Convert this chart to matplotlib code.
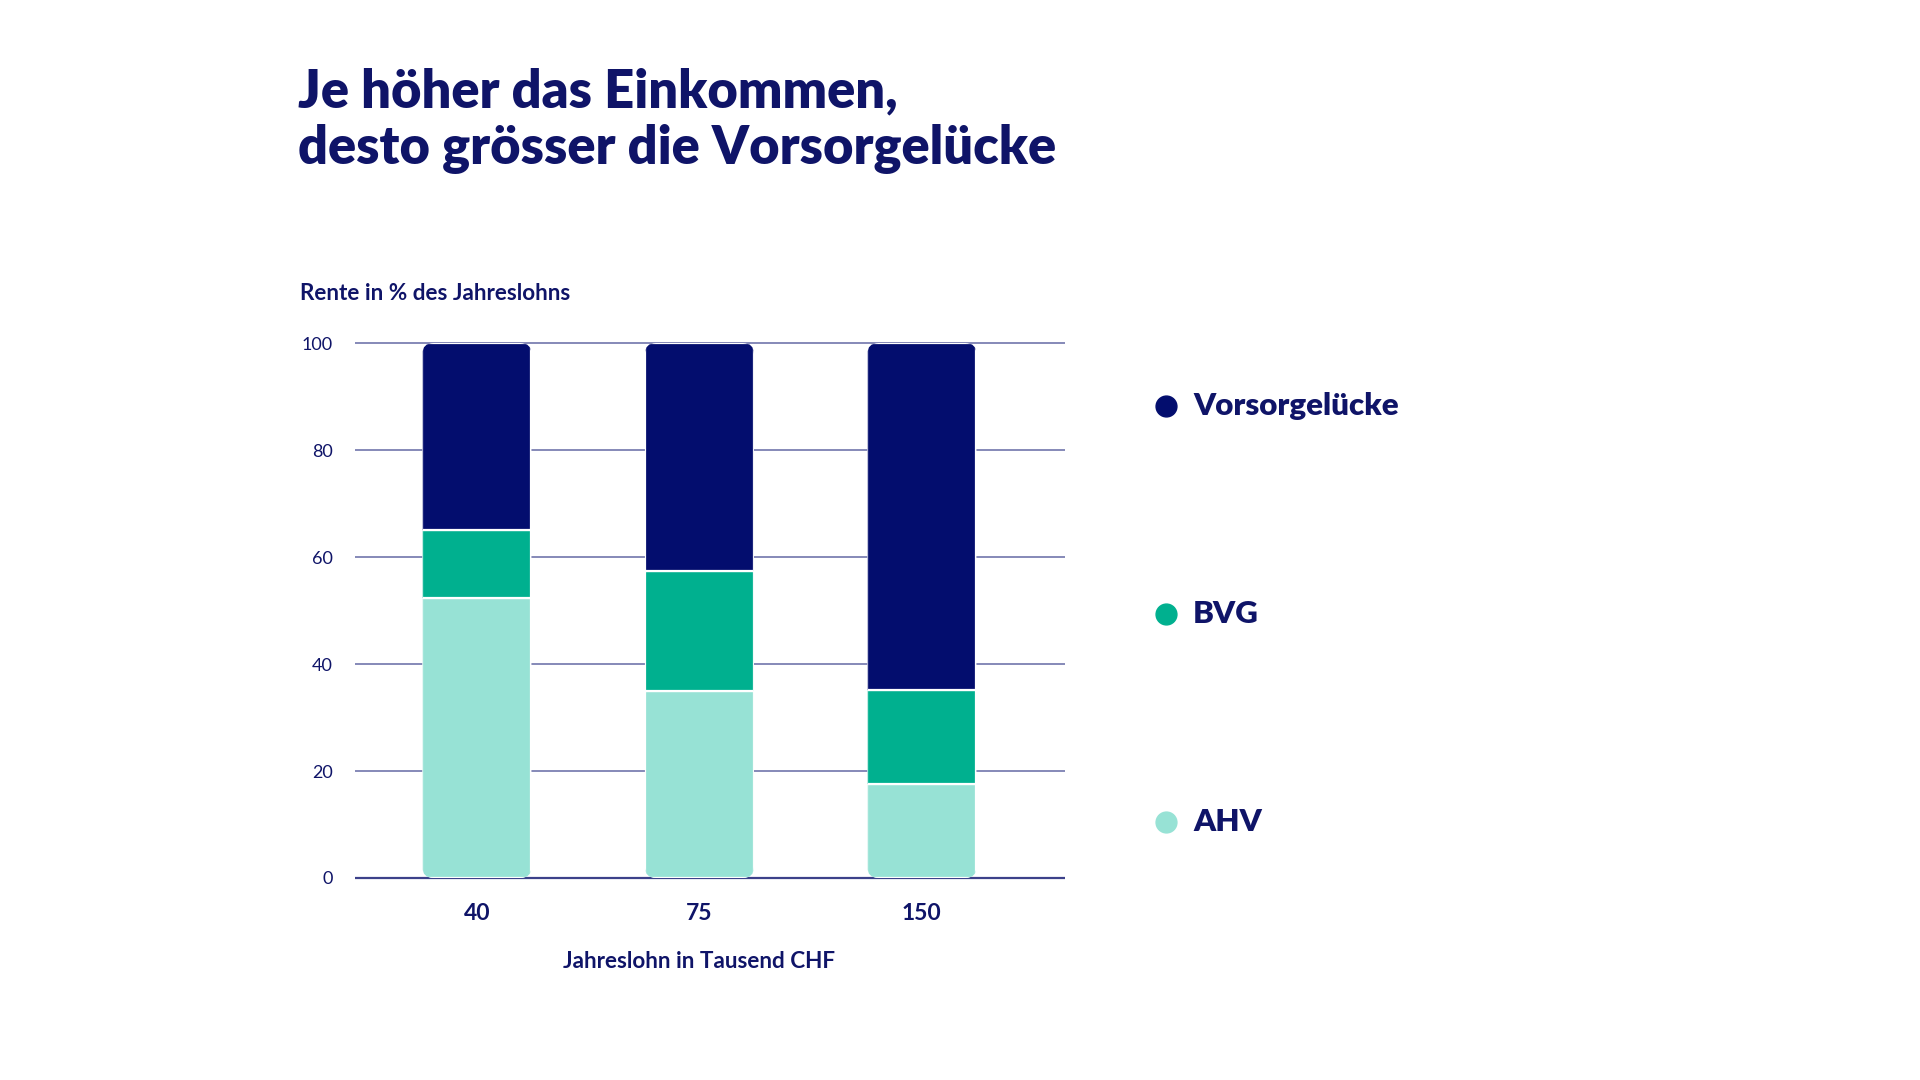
"""Stacked bar chart: Rente in % des Jahreslohns nach Einkommen."""

import matplotlib
import matplotlib.pyplot as plt
import numpy as np
from matplotlib.patches import FancyBboxPatch
from matplotlib.transforms import IdentityTransform

matplotlib.use('Agg')

plt.rcParams['font.family'] = ['Lato', 'DejaVu Sans']

# data
categories = ['40', '75', '150']
ahv = [52.4, 35.0, 17.6]
bvg = [12.6, 22.4, 17.5]
luecke = [35.0, 42.6, 64.9]
series_names = ['AHV', 'BVG', 'Vorsorgelücke']
yticks = [0, 20, 40, 60, 80, 100]

NAVY = '#030d6e'
GREEN = '#00b08f'
MINT = '#97e2d5'
TEXT = '#0f1468'
GRID = '#8589b8'

fig = plt.figure(figsize=(19.2, 10.8), dpi=100)
ax = fig.add_axes([355 / 1920, 1 - 878 / 1080, 710 / 1920, 535 / 1080])

x = np.arange(len(categories))
width = 0.49
ax.set_xlim(-0.548, 2.643)
ax.set_ylim(0, 100)

# grid lines behind the bars
ax.hlines(yticks, 0, 1, transform=ax.get_yaxis_transform(), colors=GRID,
          linewidth=1.4, clip_on=False, zorder=0)
ax.hlines([0], 0, 1, transform=ax.get_yaxis_transform(), colors='#3c418a',
          linewidth=1.6, clip_on=False, zorder=0)

bottoms = np.zeros(len(categories))
containers = []
for vals, color in zip([ahv, bvg, luecke], [MINT, GREEN, NAVY]):
    bars = ax.bar(x, vals, width, bottom=bottoms, color=color,
                  edgecolor='white', linewidth=1.6, zorder=2)
    containers.append(bars)
    bottoms = bottoms + np.array(vals)

# rounded outline of each full stack (in pixels) used as clip path
for i, total in enumerate(bottoms):
    (x0, y0), (x1, y1) = ax.transData.transform(
        [(x[i] - width / 2, 0), (x[i] + width / 2, total)])
    clip = FancyBboxPatch((x0, y0), x1 - x0, y1 - y0,
                          boxstyle='round,pad=0,rounding_size=11',
                          transform=IdentityTransform(),
                          facecolor='none', edgecolor='none')
    for bars in containers:
        bars[i].set_clip_path(clip)

for s in ax.spines.values():
    s.set_visible(False)
ax.tick_params(length=0)
ax.set_yticks(yticks)
ax.set_yticklabels([str(t) for t in yticks], fontsize=13, color=TEXT)
ax.tick_params(axis='y', pad=16)
ax.set_xticks(x)
ax.set_xticklabels(categories, fontsize=16.5, fontweight='bold', color=TEXT)
ax.tick_params(axis='x', pad=18)

fig.text(699 / 1920, 1 - 962 / 1080, 'Jahreslohn in Tausend CHF', ha='center',
         va='center', fontsize=16.2, fontweight='bold', color=TEXT)
fig.text(300 / 1920, 1 - 293 / 1080, 'Rente in % des Jahreslohns', ha='left',
         va='center', fontsize=16.2, fontweight='bold', color=TEXT)

fig.text(298 / 1920, 1 - 67 / 1080,
         'Je höher das Einkommen,\ndesto grösser die Vorsorgelücke',
         ha='left', va='top', fontsize=37.7, fontweight='heavy', color=TEXT,
         linespacing=1.2)

# legend
legend_y = [406, 614, 822]
for name, color, ly in zip(['Vorsorgelücke', 'BVG', 'AHV'],
                           [NAVY, GREEN, MINT], legend_y):
    fig.lines.append(plt.Line2D([1166 / 1920], [1 - ly / 1080], marker='o',
                                markersize=15, color=color,
                                transform=fig.transFigure))
    fig.text(1193 / 1920, 1 - ly / 1080, name, ha='left', va='center',
             fontsize=22.5, fontweight='heavy', color=TEXT)

fig.savefig('out.png', dpi=100, facecolor='white')
plt.close(fig)
